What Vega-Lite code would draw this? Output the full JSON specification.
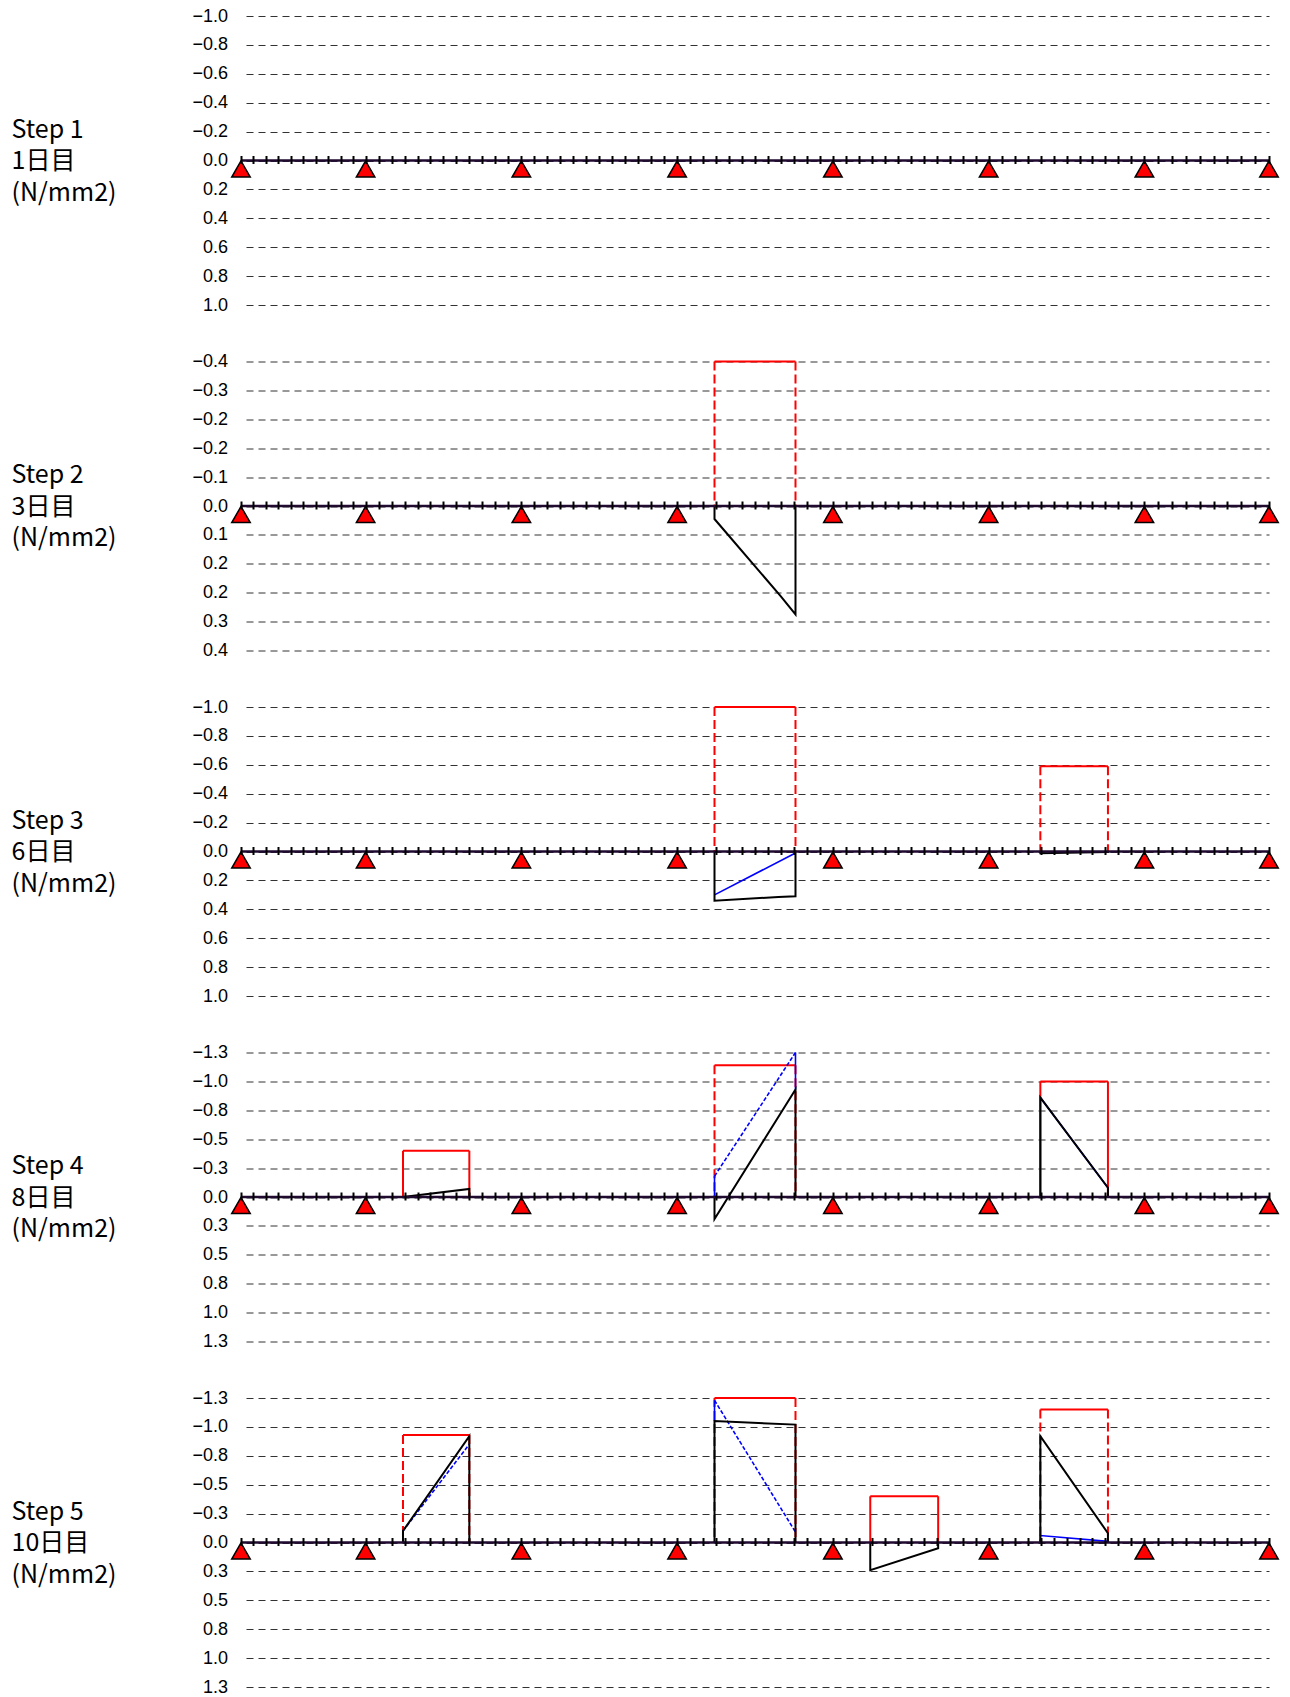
{
  "$schema": "https://vega.github.io/schema/vega-lite/v6.json",
  "background": "#ffffff",
  "padding": {"left": 11, "top": 7, "right": 5, "bottom": 5},
  "bounds": "flush",
  "spacing": 56.5,
  "config": {"view": {"stroke": null}, "font": "Liberation Sans"},
  "datasets": {
    "supports": [{"x": 0, "v": 0}, {"x": 4, "v": 0}, {"x": 9, "v": 0}, {"x": 14, "v": 0}, {"x": 19, "v": 0}, {"x": 24, "v": 0}, {"x": 29, "v": 0}, {"x": 33, "v": 0}],
    "limits": [
      {"step": 2, "id": "L2a", "x_from": 15.2, "x_to": 17.8, "v": -0.4, "grade": "B"},
      {"step": 3, "id": "L3a", "x_from": 15.2, "x_to": 17.8, "v": -1.0, "grade": "B"},
      {"step": 3, "id": "L3b", "x_from": 25.66, "x_to": 27.83, "v": -0.59, "grade": "B"},
      {"step": 4, "id": "L4a", "x_from": 5.2, "x_to": 7.33, "v": -0.4, "grade": "A"},
      {"step": 4, "id": "L4b", "x_from": 15.2, "x_to": 17.8, "v": -1.14, "grade": "B"},
      {"step": 4, "id": "L4c", "x_from": 25.66, "x_to": 27.83, "v": -1.0, "grade": "A"},
      {"step": 5, "id": "L5a", "x_from": 5.2, "x_to": 7.33, "v": -0.93, "grade": "B"},
      {"step": 5, "id": "L5b", "x_from": 15.2, "x_to": 17.8, "v": -1.25, "grade": "B"},
      {"step": 5, "id": "L5c", "x_from": 20.2, "x_to": 22.38, "v": -0.4, "grade": "A"},
      {"step": 5, "id": "L5d", "x_from": 25.66, "x_to": 27.83, "v": -1.15, "grade": "B"}
    ],
    "stress": [
      {"step": 2, "id": "2a", "seq": 1, "x": 15.2, "v": 0, "kind": "s1"},
      {"step": 2, "id": "2a", "seq": 2, "x": 15.2, "v": 0.036, "kind": "s1"},
      {"step": 2, "id": "2a", "seq": 3, "x": 17.33, "v": 0.25, "kind": "s1"},
      {"step": 2, "id": "2a", "seq": 4, "x": 17.8, "v": 0.3, "kind": "s1"},
      {"step": 2, "id": "2a", "seq": 5, "x": 17.8, "v": 0, "kind": "s1"},

      {"step": 3, "id": "3a", "seq": 1, "x": 15.2, "v": 0, "kind": "s1"},
      {"step": 3, "id": "3a", "seq": 2, "x": 15.2, "v": 0.34, "kind": "s1"},
      {"step": 3, "id": "3a", "seq": 3, "x": 17.25, "v": 0.315, "kind": "s1"},
      {"step": 3, "id": "3a", "seq": 4, "x": 17.8, "v": 0.31, "kind": "s1"},
      {"step": 3, "id": "3a", "seq": 5, "x": 17.8, "v": 0, "kind": "s1"},
      {"step": 3, "id": "3b", "seq": 1, "x": 15.2, "v": 0.3, "kind": "s2"},
      {"step": 3, "id": "3b", "seq": 2, "x": 17.8, "v": 0.01, "kind": "s2"},
      {"step": 3, "id": "3c", "seq": 1, "x": 25.66, "v": 0, "kind": "s1"},
      {"step": 3, "id": "3c", "seq": 2, "x": 25.66, "v": 0.012, "kind": "s1"},
      {"step": 3, "id": "3c", "seq": 3, "x": 27.83, "v": 0.004, "kind": "s1"},
      {"step": 3, "id": "3c", "seq": 4, "x": 27.83, "v": 0, "kind": "s1"},

      {"step": 4, "id": "4a", "seq": 1, "x": 5.2, "v": 0, "kind": "s1"},
      {"step": 4, "id": "4a", "seq": 2, "x": 7.33, "v": -0.07, "kind": "s1"},
      {"step": 4, "id": "4a", "seq": 3, "x": 7.33, "v": 0, "kind": "s1"},
      {"step": 4, "id": "4b", "seq": 1, "x": 15.2, "v": 0, "kind": "s2"},
      {"step": 4, "id": "4b", "seq": 2, "x": 15.2, "v": -0.18, "kind": "s2"},
      {"step": 4, "id": "4c", "seq": 1, "x": 15.2, "v": -0.18, "kind": "s3"},
      {"step": 4, "id": "4c", "seq": 2, "x": 17.8, "v": -1.25, "kind": "s3"},
      {"step": 4, "id": "4d", "seq": 1, "x": 17.8, "v": -1.25, "kind": "s2"},
      {"step": 4, "id": "4d", "seq": 2, "x": 17.8, "v": -0.93, "kind": "s2"},
      {"step": 4, "id": "4e", "seq": 1, "x": 15.2, "v": 0, "kind": "s1"},
      {"step": 4, "id": "4e", "seq": 2, "x": 15.2, "v": 0.19, "kind": "s1"},
      {"step": 4, "id": "4e", "seq": 3, "x": 17.8, "v": -0.93, "kind": "s1"},
      {"step": 4, "id": "4e", "seq": 4, "x": 17.8, "v": 0, "kind": "s1"},
      {"step": 4, "id": "4f", "seq": 1, "x": 25.66, "v": -0.86, "kind": "s2"},
      {"step": 4, "id": "4f", "seq": 2, "x": 27.83, "v": -0.08, "kind": "s2"},
      {"step": 4, "id": "4g", "seq": 1, "x": 25.66, "v": 0, "kind": "s1"},
      {"step": 4, "id": "4g", "seq": 2, "x": 25.66, "v": -0.86, "kind": "s1"},
      {"step": 4, "id": "4g", "seq": 3, "x": 27.83, "v": -0.08, "kind": "s1"},
      {"step": 4, "id": "4g", "seq": 4, "x": 27.83, "v": 0, "kind": "s1"},

      {"step": 5, "id": "5a", "seq": 1, "x": 5.2, "v": 0, "kind": "s1"},
      {"step": 5, "id": "5a", "seq": 2, "x": 5.2, "v": -0.1, "kind": "s1"},
      {"step": 5, "id": "5a", "seq": 3, "x": 7.33, "v": -0.92, "kind": "s1"},
      {"step": 5, "id": "5a", "seq": 4, "x": 7.33, "v": 0, "kind": "s1"},
      {"step": 5, "id": "5b", "seq": 1, "x": 5.2, "v": -0.1, "kind": "s3"},
      {"step": 5, "id": "5b", "seq": 2, "x": 7.33, "v": -0.85, "kind": "s3"},
      {"step": 5, "id": "5c", "seq": 1, "x": 15.2, "v": 0, "kind": "s1"},
      {"step": 5, "id": "5c", "seq": 2, "x": 15.2, "v": -1.05, "kind": "s1"},
      {"step": 5, "id": "5c", "seq": 3, "x": 17.8, "v": -1.02, "kind": "s1"},
      {"step": 5, "id": "5c", "seq": 4, "x": 17.8, "v": 0, "kind": "s1"},
      {"step": 5, "id": "5d", "seq": 1, "x": 15.2, "v": -1.05, "kind": "s2"},
      {"step": 5, "id": "5d", "seq": 2, "x": 15.2, "v": -1.23, "kind": "s2"},
      {"step": 5, "id": "5e", "seq": 1, "x": 15.2, "v": -1.23, "kind": "s3"},
      {"step": 5, "id": "5e", "seq": 2, "x": 17.8, "v": -0.09, "kind": "s3"},
      {"step": 5, "id": "5f", "seq": 1, "x": 20.2, "v": 0, "kind": "s1"},
      {"step": 5, "id": "5f", "seq": 2, "x": 20.2, "v": 0.24, "kind": "s1"},
      {"step": 5, "id": "5f", "seq": 3, "x": 22.38, "v": 0.05, "kind": "s1"},
      {"step": 5, "id": "5f", "seq": 4, "x": 22.38, "v": 0, "kind": "s1"},
      {"step": 5, "id": "5g", "seq": 1, "x": 25.66, "v": 0, "kind": "s1"},
      {"step": 5, "id": "5g", "seq": 2, "x": 25.66, "v": -0.92, "kind": "s1"},
      {"step": 5, "id": "5g", "seq": 3, "x": 27.83, "v": -0.08, "kind": "s1"},
      {"step": 5, "id": "5g", "seq": 4, "x": 27.83, "v": 0, "kind": "s1"},
      {"step": 5, "id": "5h", "seq": 1, "x": 25.66, "v": 0, "kind": "s2"},
      {"step": 5, "id": "5h", "seq": 2, "x": 25.66, "v": -0.06, "kind": "s2"},
      {"step": 5, "id": "5h", "seq": 3, "x": 27.83, "v": -0.01, "kind": "s2"}
    ]
  },
  "vconcat": [
    {
      "width": 1028, "height": 289,
      "encoding": {
        "x": {"field": "x", "type": "quantitative", "scale": {"domain": [0, 33], "nice": false, "zero": false},
              "axis": {"orient": "bottom", "offset": -149.5, "values": [0,0.4,0.8,1.2,1.6,2,2.4,2.8,3.2,3.6,4,4.417,4.833,5.25,5.667,6.083,6.5,6.917,7.333,7.75,8.167,8.583,9,9.417,9.833,10.25,10.667,11.083,11.5,11.917,12.333,12.75,13.167,13.583,14,14.417,14.833,15.25,15.667,16.083,16.5,16.917,17.333,17.75,18.167,18.583,19,19.417,19.833,20.25,20.667,21.083,21.5,21.917,22.333,22.75,23.167,23.583,24,24.417,24.833,25.25,25.667,26.083,26.5,26.917,27.333,27.75,28.167,28.583,29,29.444,29.889,30.333,30.778,31.222,31.667,32.111,32.556,33],
                       "domain": false, "grid": false, "labels": false, "ticks": true, "tickSize": 8, "tickWidth": 2, "tickColor": "#000000", "title": null, "zindex": 1}},
        "y": {"field": "v", "type": "quantitative", "scale": {"domain": [-1, 1], "reverse": true, "nice": false, "zero": false},
              "axis": {"values": [-1, -0.8, -0.6, -0.4, -0.2, 0, 0.2, 0.4, 0.6, 0.8, 1], "format": ".1f",
                       "grid": true, "gridDash": [7, 5], "gridDashOffset": 7, "gridColor": "#333333", "gridWidth": 1,
                       "domain": false, "ticks": false, "tickSize": 0, "labelPadding": 13.5, "labelFont": "Liberation Sans", "labelFontSize": 18, "labelColor": "#000000",
                       "title": ["Step 1", "1日目", "(N/mm2)"], "titleAngle": 0, "titleAlign": "left", "titleBaseline": "middle", "titleX": -230, "titleY": 113,
                       "titleFont": "Noto Sans CJK JP", "titleFontSize": 25, "titleFontWeight": "normal", "titleLineHeight": 31.5, "titleColor": "#000000"}}
      },
      "layer": [
        {"data": {"name": "limits"}, "transform": [{"filter": "datum.step === 1 && datum.grade === 'A'"}, {"fold": ["x_from", "x_to"], "as": ["edge", "x"]}],
         "mark": {"type": "rule", "color": "#ff0000", "strokeWidth": 2}, "encoding": {"y2": {"datum": 0}}},
        {"data": {"name": "limits"}, "transform": [{"filter": "datum.step === 1 && datum.grade === 'B'"}, {"fold": ["x_from", "x_to"], "as": ["edge", "x"]}],
         "mark": {"type": "rule", "color": "#ff0000", "strokeWidth": 2, "strokeDash": [9, 4]}, "encoding": {"y2": {"datum": 0}}},
        {"data": {"name": "limits"}, "transform": [{"filter": "datum.step === 1"}, {"fold": ["x_from", "x_to"], "as": ["edge", "x"]}],
         "mark": {"type": "line", "color": "#ff0000", "strokeWidth": 2}, "encoding": {"detail": {"field": "id", "type": "nominal"}}},
        {"data": {"name": "stress"}, "transform": [{"filter": "datum.step === 1 && datum.kind === 's2'"}],
         "mark": {"type": "line", "color": "#0000ff", "strokeWidth": 1.6},
         "encoding": {"detail": {"field": "id", "type": "nominal"}, "order": {"field": "seq", "type": "quantitative"}}},
        {"data": {"name": "stress"}, "transform": [{"filter": "datum.step === 1 && datum.kind === 's3'"}],
         "mark": {"type": "line", "color": "#0000ff", "strokeWidth": 1.6, "strokeDash": [4, 2]},
         "encoding": {"detail": {"field": "id", "type": "nominal"}, "order": {"field": "seq", "type": "quantitative"}}},
        {"data": {"name": "stress"}, "transform": [{"filter": "datum.step === 1 && datum.kind === 's1'"}],
         "mark": {"type": "line", "color": "#000000", "strokeWidth": 2},
         "encoding": {"detail": {"field": "id", "type": "nominal"}, "order": {"field": "seq", "type": "quantitative"}}},
        {"data": {"name": "supports"}, "mark": {"type": "line", "color": "#200a30", "strokeWidth": 2.5}, "encoding": {}},
        {"data": {"name": "supports"},
         "mark": {"type": "point", "shape": "triangle-up", "filled": true, "fill": "#ff0000", "stroke": "#000000", "strokeWidth": 1.5, "size": 342, "opacity": 1, "yOffset": 8.5}}
      ]
    },
    {
      "width": 1028, "height": 289,
      "encoding": {
        "x": {"field": "x", "type": "quantitative", "scale": {"domain": [0, 33], "nice": false, "zero": false},
              "axis": {"orient": "bottom", "offset": -149.5, "values": [0,0.4,0.8,1.2,1.6,2,2.4,2.8,3.2,3.6,4,4.417,4.833,5.25,5.667,6.083,6.5,6.917,7.333,7.75,8.167,8.583,9,9.417,9.833,10.25,10.667,11.083,11.5,11.917,12.333,12.75,13.167,13.583,14,14.417,14.833,15.25,15.667,16.083,16.5,16.917,17.333,17.75,18.167,18.583,19,19.417,19.833,20.25,20.667,21.083,21.5,21.917,22.333,22.75,23.167,23.583,24,24.417,24.833,25.25,25.667,26.083,26.5,26.917,27.333,27.75,28.167,28.583,29,29.444,29.889,30.333,30.778,31.222,31.667,32.111,32.556,33],
                       "domain": false, "grid": false, "labels": false, "ticks": true, "tickSize": 8, "tickWidth": 2, "tickColor": "#000000", "title": null, "zindex": 1}},
        "y": {"field": "v", "type": "quantitative", "scale": {"domain": [-0.4, 0.4], "reverse": true, "nice": false, "zero": false},
              "axis": {"values": [-0.4, -0.32, -0.24, -0.16, -0.08, 0, 0.08, 0.16, 0.24, 0.32, 0.4], "format": ".1f",
                       "grid": true, "gridDash": [7, 5], "gridDashOffset": 7, "gridColor": "#333333", "gridWidth": 1,
                       "domain": false, "ticks": false, "tickSize": 0, "labelPadding": 13.5, "labelFont": "Liberation Sans", "labelFontSize": 18, "labelColor": "#000000",
                       "title": ["Step 2", "3日目", "(N/mm2)"], "titleAngle": 0, "titleAlign": "left", "titleBaseline": "middle", "titleX": -230, "titleY": 113,
                       "titleFont": "Noto Sans CJK JP", "titleFontSize": 25, "titleFontWeight": "normal", "titleLineHeight": 31.5, "titleColor": "#000000"}}
      },
      "layer": [
        {"data": {"name": "limits"}, "transform": [{"filter": "datum.step === 2 && datum.grade === 'A'"}, {"fold": ["x_from", "x_to"], "as": ["edge", "x"]}],
         "mark": {"type": "rule", "color": "#ff0000", "strokeWidth": 2}, "encoding": {"y2": {"datum": 0}}},
        {"data": {"name": "limits"}, "transform": [{"filter": "datum.step === 2 && datum.grade === 'B'"}, {"fold": ["x_from", "x_to"], "as": ["edge", "x"]}],
         "mark": {"type": "rule", "color": "#ff0000", "strokeWidth": 2, "strokeDash": [9, 4]}, "encoding": {"y2": {"datum": 0}}},
        {"data": {"name": "limits"}, "transform": [{"filter": "datum.step === 2"}, {"fold": ["x_from", "x_to"], "as": ["edge", "x"]}],
         "mark": {"type": "line", "color": "#ff0000", "strokeWidth": 2}, "encoding": {"detail": {"field": "id", "type": "nominal"}}},
        {"data": {"name": "stress"}, "transform": [{"filter": "datum.step === 2 && datum.kind === 's2'"}],
         "mark": {"type": "line", "color": "#0000ff", "strokeWidth": 1.6},
         "encoding": {"detail": {"field": "id", "type": "nominal"}, "order": {"field": "seq", "type": "quantitative"}}},
        {"data": {"name": "stress"}, "transform": [{"filter": "datum.step === 2 && datum.kind === 's3'"}],
         "mark": {"type": "line", "color": "#0000ff", "strokeWidth": 1.6, "strokeDash": [4, 2]},
         "encoding": {"detail": {"field": "id", "type": "nominal"}, "order": {"field": "seq", "type": "quantitative"}}},
        {"data": {"name": "stress"}, "transform": [{"filter": "datum.step === 2 && datum.kind === 's1'"}],
         "mark": {"type": "line", "color": "#000000", "strokeWidth": 2},
         "encoding": {"detail": {"field": "id", "type": "nominal"}, "order": {"field": "seq", "type": "quantitative"}}},
        {"data": {"name": "supports"}, "mark": {"type": "line", "color": "#200a30", "strokeWidth": 2.5}, "encoding": {}},
        {"data": {"name": "supports"},
         "mark": {"type": "point", "shape": "triangle-up", "filled": true, "fill": "#ff0000", "stroke": "#000000", "strokeWidth": 1.5, "size": 342, "opacity": 1, "yOffset": 8.5}}
      ]
    },
    {
      "width": 1028, "height": 289,
      "encoding": {
        "x": {"field": "x", "type": "quantitative", "scale": {"domain": [0, 33], "nice": false, "zero": false},
              "axis": {"orient": "bottom", "offset": -149.5, "values": [0,0.4,0.8,1.2,1.6,2,2.4,2.8,3.2,3.6,4,4.417,4.833,5.25,5.667,6.083,6.5,6.917,7.333,7.75,8.167,8.583,9,9.417,9.833,10.25,10.667,11.083,11.5,11.917,12.333,12.75,13.167,13.583,14,14.417,14.833,15.25,15.667,16.083,16.5,16.917,17.333,17.75,18.167,18.583,19,19.417,19.833,20.25,20.667,21.083,21.5,21.917,22.333,22.75,23.167,23.583,24,24.417,24.833,25.25,25.667,26.083,26.5,26.917,27.333,27.75,28.167,28.583,29,29.444,29.889,30.333,30.778,31.222,31.667,32.111,32.556,33],
                       "domain": false, "grid": false, "labels": false, "ticks": true, "tickSize": 8, "tickWidth": 2, "tickColor": "#000000", "title": null, "zindex": 1}},
        "y": {"field": "v", "type": "quantitative", "scale": {"domain": [-1, 1], "reverse": true, "nice": false, "zero": false},
              "axis": {"values": [-1, -0.8, -0.6, -0.4, -0.2, 0, 0.2, 0.4, 0.6, 0.8, 1], "format": ".1f",
                       "grid": true, "gridDash": [7, 5], "gridDashOffset": 7, "gridColor": "#333333", "gridWidth": 1,
                       "domain": false, "ticks": false, "tickSize": 0, "labelPadding": 13.5, "labelFont": "Liberation Sans", "labelFontSize": 18, "labelColor": "#000000",
                       "title": ["Step 3", "6日目", "(N/mm2)"], "titleAngle": 0, "titleAlign": "left", "titleBaseline": "middle", "titleX": -230, "titleY": 113,
                       "titleFont": "Noto Sans CJK JP", "titleFontSize": 25, "titleFontWeight": "normal", "titleLineHeight": 31.5, "titleColor": "#000000"}}
      },
      "layer": [
        {"data": {"name": "limits"}, "transform": [{"filter": "datum.step === 3 && datum.grade === 'A'"}, {"fold": ["x_from", "x_to"], "as": ["edge", "x"]}],
         "mark": {"type": "rule", "color": "#ff0000", "strokeWidth": 2}, "encoding": {"y2": {"datum": 0}}},
        {"data": {"name": "limits"}, "transform": [{"filter": "datum.step === 3 && datum.grade === 'B'"}, {"fold": ["x_from", "x_to"], "as": ["edge", "x"]}],
         "mark": {"type": "rule", "color": "#ff0000", "strokeWidth": 2, "strokeDash": [9, 4]}, "encoding": {"y2": {"datum": 0}}},
        {"data": {"name": "limits"}, "transform": [{"filter": "datum.step === 3"}, {"fold": ["x_from", "x_to"], "as": ["edge", "x"]}],
         "mark": {"type": "line", "color": "#ff0000", "strokeWidth": 2}, "encoding": {"detail": {"field": "id", "type": "nominal"}}},
        {"data": {"name": "stress"}, "transform": [{"filter": "datum.step === 3 && datum.kind === 's2'"}],
         "mark": {"type": "line", "color": "#0000ff", "strokeWidth": 1.6},
         "encoding": {"detail": {"field": "id", "type": "nominal"}, "order": {"field": "seq", "type": "quantitative"}}},
        {"data": {"name": "stress"}, "transform": [{"filter": "datum.step === 3 && datum.kind === 's3'"}],
         "mark": {"type": "line", "color": "#0000ff", "strokeWidth": 1.6, "strokeDash": [4, 2]},
         "encoding": {"detail": {"field": "id", "type": "nominal"}, "order": {"field": "seq", "type": "quantitative"}}},
        {"data": {"name": "stress"}, "transform": [{"filter": "datum.step === 3 && datum.kind === 's1'"}],
         "mark": {"type": "line", "color": "#000000", "strokeWidth": 2},
         "encoding": {"detail": {"field": "id", "type": "nominal"}, "order": {"field": "seq", "type": "quantitative"}}},
        {"data": {"name": "supports"}, "mark": {"type": "line", "color": "#200a30", "strokeWidth": 2.5}, "encoding": {}},
        {"data": {"name": "supports"},
         "mark": {"type": "point", "shape": "triangle-up", "filled": true, "fill": "#ff0000", "stroke": "#000000", "strokeWidth": 1.5, "size": 342, "opacity": 1, "yOffset": 8.5}}
      ]
    },
    {
      "width": 1028, "height": 289,
      "encoding": {
        "x": {"field": "x", "type": "quantitative", "scale": {"domain": [0, 33], "nice": false, "zero": false},
              "axis": {"orient": "bottom", "offset": -149.5, "values": [0,0.4,0.8,1.2,1.6,2,2.4,2.8,3.2,3.6,4,4.417,4.833,5.25,5.667,6.083,6.5,6.917,7.333,7.75,8.167,8.583,9,9.417,9.833,10.25,10.667,11.083,11.5,11.917,12.333,12.75,13.167,13.583,14,14.417,14.833,15.25,15.667,16.083,16.5,16.917,17.333,17.75,18.167,18.583,19,19.417,19.833,20.25,20.667,21.083,21.5,21.917,22.333,22.75,23.167,23.583,24,24.417,24.833,25.25,25.667,26.083,26.5,26.917,27.333,27.75,28.167,28.583,29,29.444,29.889,30.333,30.778,31.222,31.667,32.111,32.556,33],
                       "domain": false, "grid": false, "labels": false, "ticks": true, "tickSize": 8, "tickWidth": 2, "tickColor": "#000000", "title": null, "zindex": 1}},
        "y": {"field": "v", "type": "quantitative", "scale": {"domain": [-1.25, 1.25], "reverse": true, "nice": false, "zero": false},
              "axis": {"values": [-1.25, -1, -0.75, -0.5, -0.25, 0, 0.25, 0.5, 0.75, 1, 1.25], "format": ".1f",
                       "grid": true, "gridDash": [7, 5], "gridDashOffset": 7, "gridColor": "#333333", "gridWidth": 1,
                       "domain": false, "ticks": false, "tickSize": 0, "labelPadding": 13.5, "labelFont": "Liberation Sans", "labelFontSize": 18, "labelColor": "#000000",
                       "title": ["Step 4", "8日目", "(N/mm2)"], "titleAngle": 0, "titleAlign": "left", "titleBaseline": "middle", "titleX": -230, "titleY": 113,
                       "titleFont": "Noto Sans CJK JP", "titleFontSize": 25, "titleFontWeight": "normal", "titleLineHeight": 31.5, "titleColor": "#000000"}}
      },
      "layer": [
        {"data": {"name": "limits"}, "transform": [{"filter": "datum.step === 4 && datum.grade === 'A'"}, {"fold": ["x_from", "x_to"], "as": ["edge", "x"]}],
         "mark": {"type": "rule", "color": "#ff0000", "strokeWidth": 2}, "encoding": {"y2": {"datum": 0}}},
        {"data": {"name": "limits"}, "transform": [{"filter": "datum.step === 4 && datum.grade === 'B'"}, {"fold": ["x_from", "x_to"], "as": ["edge", "x"]}],
         "mark": {"type": "rule", "color": "#ff0000", "strokeWidth": 2, "strokeDash": [9, 4]}, "encoding": {"y2": {"datum": 0}}},
        {"data": {"name": "limits"}, "transform": [{"filter": "datum.step === 4"}, {"fold": ["x_from", "x_to"], "as": ["edge", "x"]}],
         "mark": {"type": "line", "color": "#ff0000", "strokeWidth": 2}, "encoding": {"detail": {"field": "id", "type": "nominal"}}},
        {"data": {"name": "stress"}, "transform": [{"filter": "datum.step === 4 && datum.kind === 's2'"}],
         "mark": {"type": "line", "color": "#0000ff", "strokeWidth": 1.6},
         "encoding": {"detail": {"field": "id", "type": "nominal"}, "order": {"field": "seq", "type": "quantitative"}}},
        {"data": {"name": "stress"}, "transform": [{"filter": "datum.step === 4 && datum.kind === 's3'"}],
         "mark": {"type": "line", "color": "#0000ff", "strokeWidth": 1.6, "strokeDash": [4, 2]},
         "encoding": {"detail": {"field": "id", "type": "nominal"}, "order": {"field": "seq", "type": "quantitative"}}},
        {"data": {"name": "stress"}, "transform": [{"filter": "datum.step === 4 && datum.kind === 's1'"}],
         "mark": {"type": "line", "color": "#000000", "strokeWidth": 2},
         "encoding": {"detail": {"field": "id", "type": "nominal"}, "order": {"field": "seq", "type": "quantitative"}}},
        {"data": {"name": "supports"}, "mark": {"type": "line", "color": "#200a30", "strokeWidth": 2.5}, "encoding": {}},
        {"data": {"name": "supports"},
         "mark": {"type": "point", "shape": "triangle-up", "filled": true, "fill": "#ff0000", "stroke": "#000000", "strokeWidth": 1.5, "size": 342, "opacity": 1, "yOffset": 8.5}}
      ]
    },
    {
      "width": 1028, "height": 289,
      "encoding": {
        "x": {"field": "x", "type": "quantitative", "scale": {"domain": [0, 33], "nice": false, "zero": false},
              "axis": {"orient": "bottom", "offset": -149.5, "values": [0,0.4,0.8,1.2,1.6,2,2.4,2.8,3.2,3.6,4,4.417,4.833,5.25,5.667,6.083,6.5,6.917,7.333,7.75,8.167,8.583,9,9.417,9.833,10.25,10.667,11.083,11.5,11.917,12.333,12.75,13.167,13.583,14,14.417,14.833,15.25,15.667,16.083,16.5,16.917,17.333,17.75,18.167,18.583,19,19.417,19.833,20.25,20.667,21.083,21.5,21.917,22.333,22.75,23.167,23.583,24,24.417,24.833,25.25,25.667,26.083,26.5,26.917,27.333,27.75,28.167,28.583,29,29.444,29.889,30.333,30.778,31.222,31.667,32.111,32.556,33],
                       "domain": false, "grid": false, "labels": false, "ticks": true, "tickSize": 8, "tickWidth": 2, "tickColor": "#000000", "title": null, "zindex": 1}},
        "y": {"field": "v", "type": "quantitative", "scale": {"domain": [-1.25, 1.25], "reverse": true, "nice": false, "zero": false},
              "axis": {"values": [-1.25, -1, -0.75, -0.5, -0.25, 0, 0.25, 0.5, 0.75, 1, 1.25], "format": ".1f",
                       "grid": true, "gridDash": [7, 5], "gridDashOffset": 7, "gridColor": "#333333", "gridWidth": 1,
                       "domain": false, "ticks": false, "tickSize": 0, "labelPadding": 13.5, "labelFont": "Liberation Sans", "labelFontSize": 18, "labelColor": "#000000",
                       "title": ["Step 5", "10日目", "(N/mm2)"], "titleAngle": 0, "titleAlign": "left", "titleBaseline": "middle", "titleX": -230, "titleY": 113,
                       "titleFont": "Noto Sans CJK JP", "titleFontSize": 25, "titleFontWeight": "normal", "titleLineHeight": 31.5, "titleColor": "#000000"}}
      },
      "layer": [
        {"data": {"name": "limits"}, "transform": [{"filter": "datum.step === 5 && datum.grade === 'A'"}, {"fold": ["x_from", "x_to"], "as": ["edge", "x"]}],
         "mark": {"type": "rule", "color": "#ff0000", "strokeWidth": 2}, "encoding": {"y2": {"datum": 0}}},
        {"data": {"name": "limits"}, "transform": [{"filter": "datum.step === 5 && datum.grade === 'B'"}, {"fold": ["x_from", "x_to"], "as": ["edge", "x"]}],
         "mark": {"type": "rule", "color": "#ff0000", "strokeWidth": 2, "strokeDash": [9, 4]}, "encoding": {"y2": {"datum": 0}}},
        {"data": {"name": "limits"}, "transform": [{"filter": "datum.step === 5"}, {"fold": ["x_from", "x_to"], "as": ["edge", "x"]}],
         "mark": {"type": "line", "color": "#ff0000", "strokeWidth": 2}, "encoding": {"detail": {"field": "id", "type": "nominal"}}},
        {"data": {"name": "stress"}, "transform": [{"filter": "datum.step === 5 && datum.kind === 's2'"}],
         "mark": {"type": "line", "color": "#0000ff", "strokeWidth": 1.6},
         "encoding": {"detail": {"field": "id", "type": "nominal"}, "order": {"field": "seq", "type": "quantitative"}}},
        {"data": {"name": "stress"}, "transform": [{"filter": "datum.step === 5 && datum.kind === 's3'"}],
         "mark": {"type": "line", "color": "#0000ff", "strokeWidth": 1.6, "strokeDash": [4, 2]},
         "encoding": {"detail": {"field": "id", "type": "nominal"}, "order": {"field": "seq", "type": "quantitative"}}},
        {"data": {"name": "stress"}, "transform": [{"filter": "datum.step === 5 && datum.kind === 's1'"}],
         "mark": {"type": "line", "color": "#000000", "strokeWidth": 2},
         "encoding": {"detail": {"field": "id", "type": "nominal"}, "order": {"field": "seq", "type": "quantitative"}}},
        {"data": {"name": "supports"}, "mark": {"type": "line", "color": "#200a30", "strokeWidth": 2.5}, "encoding": {}},
        {"data": {"name": "supports"},
         "mark": {"type": "point", "shape": "triangle-up", "filled": true, "fill": "#ff0000", "stroke": "#000000", "strokeWidth": 1.5, "size": 342, "opacity": 1, "yOffset": 8.5}}
      ]
    }
  ]
}
